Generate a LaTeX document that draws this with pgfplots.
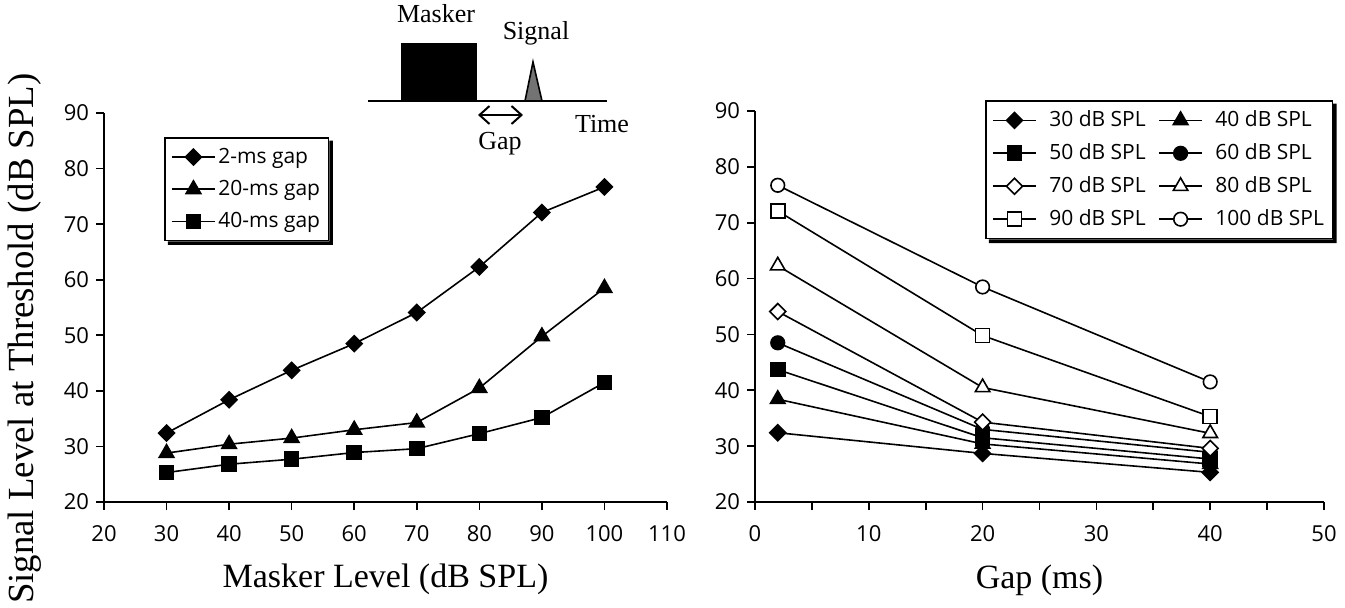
\documentclass[border=0pt]{standalone}
\usepackage{fontspec}
\setmainfont{Liberation Serif}
\setsansfont{Open Sans}
\usepackage{pgfplots}
\pgfplotsset{compat=1.18}
\usetikzlibrary{arrows.meta,calc}

\pgfplotsset{
  panel/.style={
    scale only axis,
    axis x line*=bottom, axis y line*=left,
    xtick pos=left, ytick pos=left,
    tick align=outside,
    major tick length=4pt, minor tick length=4pt,
    axis line style={line width=0.8pt},
    every tick/.style={black, line width=0.8pt},
    tick label style={font=\sffamily\fontsize{11}{12}\selectfont},
    xticklabel shift=4pt,
    /pgf/number format/assume math mode=true,
    label style={font=\fontsize{17}{20}\selectfont},
    legend cell align=left,
    legend style={font=\sffamily\fontsize{10.5}{12}\selectfont, draw=black,
      line width=0.8pt, fill=white, row sep=3pt, inner sep=3pt,
      nodes={inner xsep=1.2pt}},
    legend image code/.code={\draw[mark repeat=2,mark phase=2,#1]
      plot coordinates {(0cm,0cm) (0.38cm,0cm) (0.76cm,0cm)};},
  },
  ln/.style={black, line width=0.8pt},
  fdia/.style={ln, mark=square*, mark size=2.8pt, mark options={rotate=45, fill=black, solid}},
  ftri/.style={ln, mark=triangle*, mark size=4.2pt, mark options={fill=black, solid}},
  fsq/.style={ln, mark=square*, mark size=3.5pt, mark options={fill=black, solid}},
  fcir/.style={ln, mark=*, mark size=3.4pt, mark options={fill=black, solid}},
  odia/.style={ln, mark=square*, mark size=2.8pt, mark options={rotate=45, fill=white, solid}},
  otri/.style={ln, mark=triangle*, mark size=4.2pt, mark options={fill=white, solid}},
  osq/.style={ln, mark=square*, mark size=3.5pt, mark options={fill=white, solid}},
  ocir/.style={ln, mark=*, mark size=3.4pt, mark options={fill=white, solid}},
}

% black drop shadow along the right and lower edges of a legend box
\newcommand\legshadow[1]{%
  \fill[black] let \p1=(#1.south west), \p2=(#1.north east), \n1={1.8pt} in
    (\x1+\n1,\y1) -- (\x1+\n1,\y1-\n1) -- (\x2+\n1,\y1-\n1) -- (\x2+\n1,\y2-\n1)
    -- (\x2,\y2-\n1) -- (\x2,\y1) -- cycle;}

\begin{document}
\begin{tikzpicture}
\useasboundingbox (0,0) rectangle (672.5pt,303.5pt);

% left panel: threshold vs masker level
\begin{axis}[panel,
  at={(52pt,52.5pt)}, anchor=south west,
  width=281.5pt, height=194.5pt,
  xmin=20, xmax=110, ymin=20, ymax=90,
  xtick={20,30,...,110}, ytick={20,30,...,90},
  xlabel={Masker Level (dB SPL)},
  ylabel={Signal Level at Threshold (dB SPL)},
  xlabel style={at={(axis description cs:0.5,-0.20)}, anchor=center},
  ylabel style={at={(axis description cs:-0.14,0.42)}, anchor=center,
    font=\fontsize{18.4}{20}\selectfont},
  legend style={at={(0.107,0.938)}, anchor=north west, name=legL},
]
\addplot[fdia] coordinates {(30,32.4) (40,38.4) (50,43.7) (60,48.5) (70,54.1) (80,62.3) (90,72.1) (100,76.7)};
\addplot[ftri] coordinates {(30,28.8) (40,30.4) (50,31.5) (60,33.0) (70,34.3) (80,40.5) (90,49.8) (100,58.5)};
\addplot[fsq] coordinates {(30,25.3) (40,26.8) (50,27.7) (60,28.9) (70,29.6) (80,32.3) (90,35.2) (100,41.5)};
\legend{2-ms gap, 20-ms gap, 40-ms gap}
\end{axis}
\legshadow{legL}

% right panel: threshold vs gap
\begin{axis}[panel,
  at={(377.5pt,52.5pt)}, anchor=south west,
  width=284.5pt, height=195.5pt,
  xmin=0, xmax=50, ymin=20, ymax=90,
  xtick={0,10,...,50}, minor xtick={5,15,...,45}, ytick={20,30,...,90},
  xlabel={Gap (ms)},
  xlabel style={at={(axis description cs:0.5,-0.20)}, anchor=center},
  legend columns=2,
  legend style={at={(1.016,1.028)}, anchor=north east, name=legR,
    /tikz/column sep=5pt},
]
\addplot[fdia] coordinates {(2,32.4) (20,28.7) (40,25.3)};
\addplot[ftri] coordinates {(2,38.4) (20,30.4) (40,26.8)};
\addplot[fsq] coordinates {(2,43.7) (20,31.5) (40,27.7)};
\addplot[fcir] coordinates {(2,48.5) (20,33.0) (40,28.9)};
\addplot[odia] coordinates {(2,54.1) (20,34.3) (40,29.6)};
\addplot[otri] coordinates {(2,62.3) (20,40.5) (40,32.3)};
\addplot[osq] coordinates {(2,72.1) (20,49.8) (40,35.3)};
\addplot[ocir] coordinates {(2,76.7) (20,58.5) (40,41.5)};
\legend{30 dB SPL, 40 dB SPL, 50 dB SPL, 60 dB SPL, 70 dB SPL, 80 dB SPL, 90 dB SPL, 100 dB SPL}
\end{axis}
\legshadow{legR}

% stimulus schematic, in pixel units of the reference
\begin{scope}[shift={(0pt,303.5pt)}, x=0.5pt, y=-0.5pt]
  \fill[black] (401,43) rectangle (477,101);
  \draw[line width=1pt] (368,101) -- (607,101);
  \filldraw[fill=black!55, draw=black, line width=0.8pt, line join=miter]
    (525,101) -- (533,62) -- (542,101) -- cycle;
  \draw[line width=1pt, {Straight Barb[length=5pt,width=9pt]}-{Straight Barb[length=5pt,width=9pt]}]
    (478,115) -- (523,115);
  \begin{scope}[every node/.style={font=\fontsize{13}{15}\selectfont, inner sep=0pt}]
    \node at (436,14) {Masker};
    \node at (536,33) {Signal};
    \node at (500,144) {Gap};
    \node at (602,124) {Time};
  \end{scope}
\end{scope}
\end{tikzpicture}
\end{document}
